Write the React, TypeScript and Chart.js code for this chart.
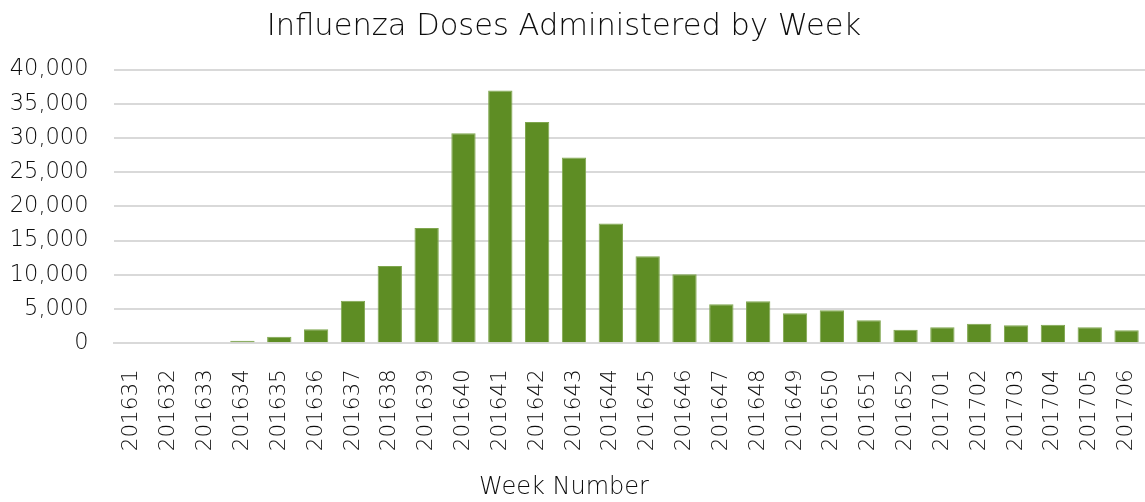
import React, { useEffect, useRef } from "react";
import { Chart, registerables } from "chart.js";

Chart.register(...registerables);

const weeks = [
  "201631", "201632", "201633", "201634", "201635", "201636", "201637",
  "201638", "201639", "201640", "201641", "201642", "201643", "201644",
  "201645", "201646", "201647", "201648", "201649", "201650", "201651",
  "201652", "201701", "201702", "201703", "201704", "201705", "201706",
];
const doses = [
  0, 0, 0, 350, 950, 2050, 6200, 11300, 16850, 30700, 36950, 32350, 27150,
  17500, 12700, 10070, 5700, 6130, 4380, 4800, 3360, 1970, 2340, 2850, 2630,
  2700, 2340, 1900,
];
const yTicks = [0, 5000, 10000, 15000, 20000, 25000, 30000, 35000, 40000];
const chartTitle = "Influenza Doses Administered by Week";
const xTitle = "Week Number";

const FONT = "'DejaVu Sans', sans-serif";
const TEXT = "#0d0d0d";

export default function App() {
  const ref = useRef<HTMLCanvasElement | null>(null);
  useEffect(() => {
    document.body.style.margin = "0";
    const canvas = ref.current;
    if (!canvas) return;
    const chart = new Chart(canvas, {
      type: "bar",
      data: {
        labels: weeks,
        datasets: [
          {
            label: "Doses",
            data: doses,
            backgroundColor: "#5E8D24",
            borderColor: "#7FA64E",
            borderWidth: 1,
            categoryPercentage: 1,
            barPercentage: 0.66,
          },
        ],
      },
      options: {
        animation: false,
        responsive: false,
        maintainAspectRatio: false,
        layout: { padding: { left: -22, right: -5, top: 9, bottom: 0 } },
        plugins: {
          legend: { display: false },
          tooltip: { enabled: false },
          title: {
            display: true,
            text: chartTitle,
            color: TEXT,
            font: { family: FONT, size: 30.5, weight: 300 },
            padding: { top: 0, bottom: 24 },
          },
          subtitle: {
            display: true,
            position: "bottom",
            text: xTitle,
            color: TEXT,
            font: { family: FONT, size: 24, weight: 300 },
            padding: { top: 0, bottom: 0 },
          },
        },
        scales: {
          x: {
            grid: { display: false, drawTicks: false },
            border: { color: "#d9d9d9", width: 2 },
            afterFit: (scale: any) => {
              scale.paddingLeft = 0;
              scale.paddingRight = 0;
              scale.height = 130;
            },
            ticks: {
              autoSkip: false,
              maxRotation: 90,
              minRotation: 90,
              padding: 26,
              color: TEXT,
              font: { family: FONT, size: 21.5, weight: 300 },
            },
          },
          y: {
            min: 0,
            max: 40000,
            afterBuildTicks: (axis: any) => {
              axis.ticks = yTicks.map((v) => ({ value: v }));
            },
            afterFit: (scale: any) => {
              scale.width = 135.5;
            },
            grid: { color: "#d9d9d9", lineWidth: 2, drawTicks: false },
            border: { display: false },
            ticks: {
              padding: 25,
              color: TEXT,
              font: { family: FONT, size: 22.5, weight: 300 },
              callback: (v: any) => Number(v).toLocaleString("en-US"),
            },
          },
        },
      },
    });
    return () => chart.destroy();
  }, []);
  return <canvas ref={ref} width={1145} height={502} style={{ display: "block" }} />;
}
